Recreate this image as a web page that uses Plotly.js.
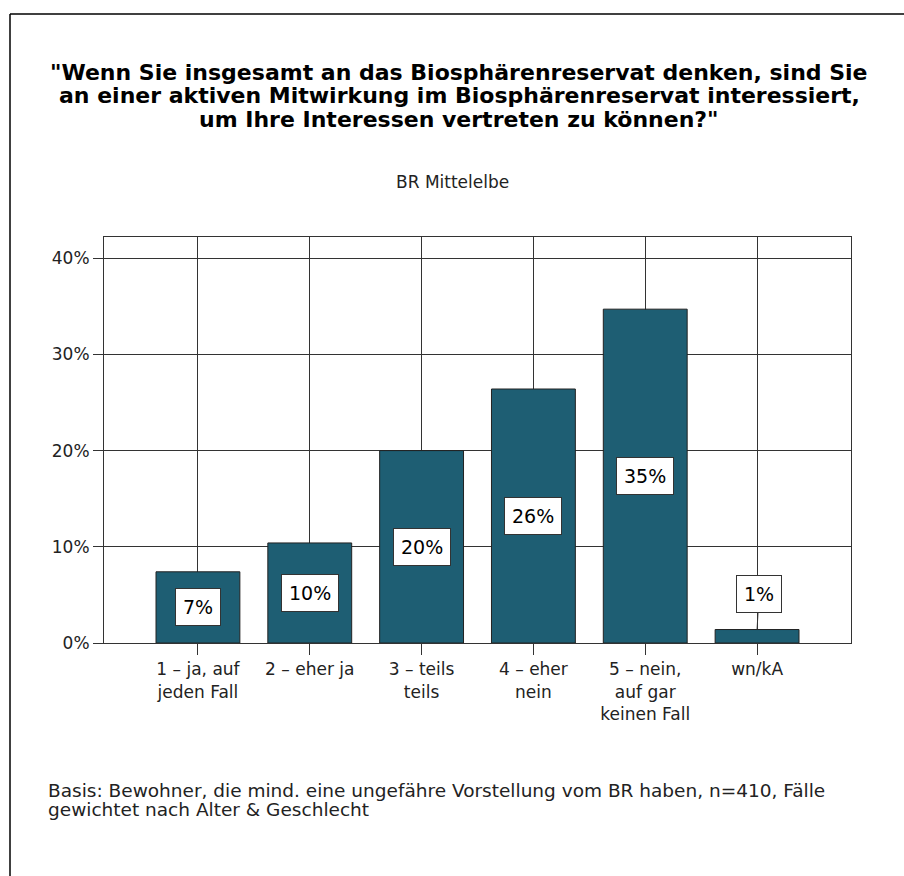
<!DOCTYPE html>
<html>
<head>
<meta charset="utf-8">
<script src="https://cdn.plot.ly/plotly-3.0.1.min.js"></script>
<style>
  html, body { margin: 0; padding: 0; background: #ffffff; }
  #chart { width: 904px; height: 876px; }
</style>
</head>
<body>
<div id="chart"></div>
<script>
// ---- data ----
const categories = [
  "1 – ja, auf<br>jeden Fall",
  "2 – eher ja",
  "3 – teils<br>teils",
  "4 – eher<br>nein",
  "5 – nein,<br>auf gar<br>keinen Fall",
  "wn/kA"
];
const values = [7.4, 10.4, 20.0, 26.4, 34.7, 1.4];
const valueLabels = ["7%", "10%", "20%", "26%", "35%", "1%"];
const yTickValues = [0, 10, 20, 30, 40];
const yTickLabels = ["0%", "10%", "20%", "30%", "40%"];

const titleLines = [
  '"Wenn Sie insgesamt an das Biosphärenreservat denken, sind Sie',
  'an einer aktiven Mitwirkung im Biosphärenreservat interessiert,',
  'um Ihre Interessen vertreten zu können?"'
];
const subtitleText = "BR Mittelelbe";
const footnoteLines = [
  "Basis: Bewohner, die mind. eine ungefähre Vorstellung vom BR haben, n=410, Fälle",
  "gewichtet nach Alter &amp; Geschlecht"
];

// ---- layout geometry ----
const W = 904, H = 876;
const ML = 104, MR = 53, MT = 237, MB = 233;
const PW = W - ML - MR, PH = H - MT - MB;
const px2x = p => (p - ML) / PW;
const py2y = p => (H - MB - p) / PH;

const FONT = "'DejaVu Sans', Verdana, sans-serif";
const TITLE_FONT = "'DejaVu Sans', Verdana, sans-serif";
const barColor = "#1e5e73";
const gridColor = "#333333";
const textColor = "#222222";

const trace = {
  type: "bar",
  x: categories,
  y: values,
  width: 0.75,
  marker: { color: barColor, line: { color: "#222222", width: 1 } },
  hoverinfo: "skip"
};

const annotations = [];
// value labels
values.forEach((v, i) => {
  const base = {
    xref: "x", yref: "y", x: categories[i],
    text: valueLabels[i],
    font: { family: FONT, size: 19, color: "#000000" },
    bgcolor: "#ffffff", bordercolor: "#333333", borderwidth: 1, borderpad: 7
  };
  if (v >= 5) {
    annotations.push(Object.assign(base, { y: v / 2, showarrow: false }));
  } else {
    annotations.push(Object.assign(base, {
      y: v, showarrow: true, arrowhead: 0, arrowwidth: 1,
      arrowcolor: "#333333", ax: 2, ay: -36, standoff: 0, startstandoff: 0
    }));
  }
});
// title lines
const titleY = [72, 95.5, 119];
titleLines.forEach((t, i) => {
  annotations.push({
    xref: "paper", yref: "paper", x: px2x(459), y: py2y(titleY[i]),
    xanchor: "center", yanchor: "middle", showarrow: false,
    text: "<b>" + t + "</b>",
    font: { family: TITLE_FONT, size: 22, color: "#000000" }
  });
});
// subtitle
annotations.push({
  xref: "paper", yref: "paper", x: px2x(452), y: py2y(182),
  xanchor: "center", yanchor: "middle", showarrow: false,
  text: subtitleText, font: { family: FONT, size: 17, color: textColor }
});
// footnote
const footY = [790, 809];
footnoteLines.forEach((t, i) => {
  annotations.push({
    xref: "paper", yref: "paper", x: px2x(46), y: py2y(footY[i]),
    xanchor: "left", yanchor: "middle", align: "left", showarrow: false,
    text: t, font: { family: FONT, size: 18.5, color: textColor }
  });
});

const layout = {
  width: W, height: H,
  margin: { l: ML, r: MR, t: MT, b: MB },
  paper_bgcolor: "#ffffff",
  plot_bgcolor: "#ffffff",
  showlegend: false,
  font: { family: FONT, size: 17, color: textColor },
  xaxis: {
    type: "category",
    range: [-0.84, 5.84],
    showgrid: true, gridcolor: gridColor, gridwidth: 1,
    showline: true, linecolor: gridColor, linewidth: 1, mirror: true,
    ticks: "outside", ticklen: 11, tickcolor: gridColor, tickwidth: 1,
    tickfont: { family: FONT, size: 17, color: textColor },
    fixedrange: true
  },
  yaxis: {
    range: [0, 42.2],
    tickvals: yTickValues, ticktext: yTickLabels,
    showgrid: true, gridcolor: gridColor, gridwidth: 1,
    showline: true, linecolor: gridColor, linewidth: 1, mirror: true,
    ticks: "outside", ticklen: 10, tickcolor: gridColor, tickwidth: 1,
    tickfont: { family: FONT, size: 17, color: textColor },
    zeroline: false,
    fixedrange: true
  },
  bargap: 0.25,
  annotations: annotations,
  shapes: [
    { type: "line", xref: "paper", yref: "paper",
      x0: px2x(10), x1: px2x(W + 5), y0: py2y(14), y1: py2y(14),
      line: { color: "#000000", width: 1.5 } },
    { type: "line", xref: "paper", yref: "paper",
      x0: px2x(10), x1: px2x(10), y0: py2y(14), y1: py2y(H + 5),
      line: { color: "#000000", width: 1.5 } }
  ]
};

Plotly.newPlot("chart", [trace], layout, { displayModeBar: false, staticPlot: true });
</script>
</body>
</html>
